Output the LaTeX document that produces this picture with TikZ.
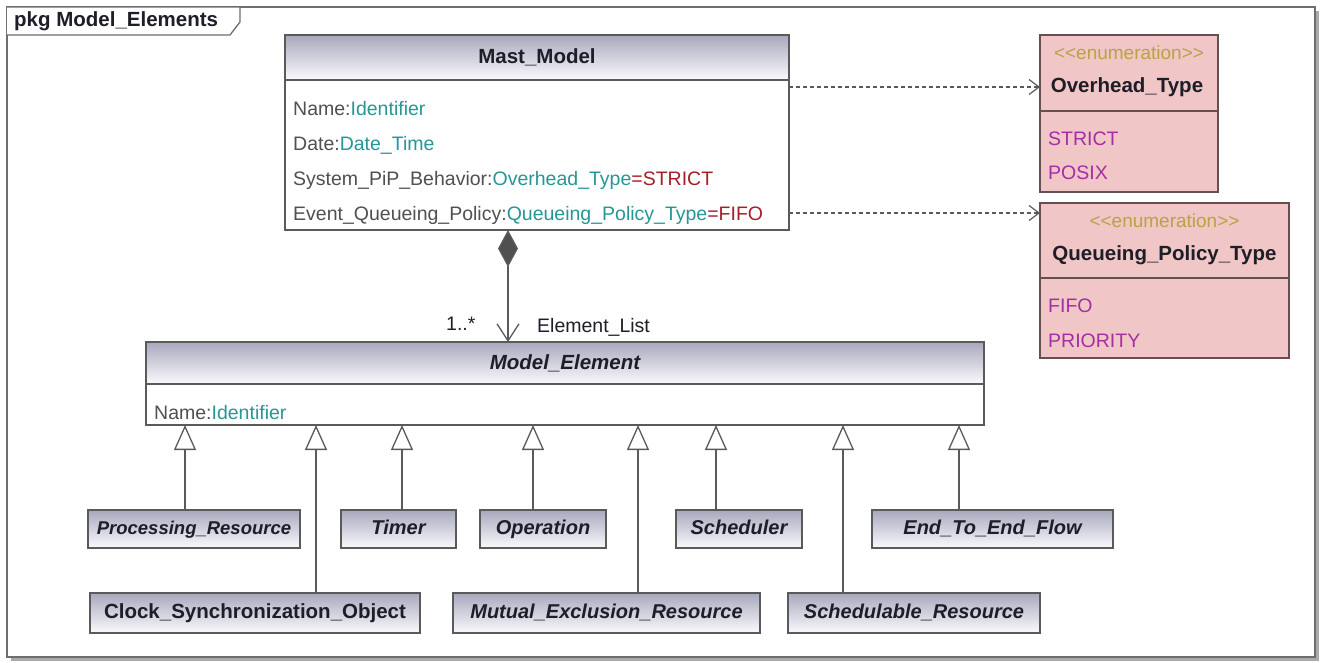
\documentclass[tikz,border=0pt]{standalone}
\usepackage{fontspec}
\setmainfont{Liberation Sans}
\usetikzlibrary{arrows.meta}
\definecolor{linec}{RGB}{90,90,90}
\definecolor{framec}{RGB}{110,110,110}
\definecolor{shadowc}{RGB}{170,170,170}
\definecolor{hdrtop}{RGB}{168,168,190}
\definecolor{hdrbot}{RGB}{250,250,253}
\definecolor{enumfill}{RGB}{240,198,198}
\definecolor{enumline}{RGB}{100,80,80}
\definecolor{tealc}{RGB}{40,150,150}
\definecolor{redc}{RGB}{165,30,40}
\definecolor{purplec}{RGB}{165,45,165}
\definecolor{stereoc}{RGB}{190,160,70}
\definecolor{attrgray}{RGB}{80,80,80}
\definecolor{titlec}{RGB}{30,30,40}
\definecolor{diamc}{RGB}{80,80,80}
\tikzset{
  hdr/.style={draw=linec, line width=1.3pt, top color=hdrtop, bottom color=hdrbot, inner sep=0pt, outer sep=0pt, text=titlec, font=\bfseries\fontsize{20.5}{24}\selectfont},
  body/.style={draw=linec, line width=1.3pt, fill=white, inner sep=0pt, outer sep=0pt},
  enumbox/.style={draw=enumline, line width=1.3pt, fill=enumfill, inner sep=0pt, outer sep=0pt},
  child/.style={draw=linec, line width=1.3pt, top color=hdrtop, bottom color=hdrbot, inner sep=0pt, outer sep=0pt, minimum height=38pt, text height=15pt, text depth=4pt, text=titlec, font=\bfseries\itshape\fontsize{20}{24}\selectfont},
  attr/.style={anchor=base west, inner sep=0pt, text=attrgray, font=\fontsize{19.5}{22}\selectfont},
  lit/.style={anchor=base west, inner sep=0pt, text=purplec, font=\fontsize{19.5}{22}\selectfont},
  stereo/.style={anchor=base, inner sep=0pt, text=stereoc, font=\fontsize{19}{22}\selectfont},
  ename/.style={anchor=base, inner sep=0pt, text=titlec, font=\bfseries\fontsize{20.5}{24}\selectfont},
  lbl/.style={anchor=base west, inner sep=0pt, text=titlec, font=\fontsize{19.5}{22}\selectfont},
  gen/.style={draw=linec, line width=1.3pt, -{Triangle[length=25pt,width=22pt,fill=white]}},
  comp/.style={draw=linec, line width=1.3pt, {Diamond[length=37pt,width=20pt,fill=diamc]}-{Straight Barb[length=17pt,width=22pt]}},
  dep/.style={draw=linec, line width=1.2pt, dash pattern=on 4pt off 3pt, -{Straight Barb[length=10pt,width=15pt]}}
}
\begin{document}
\begin{tikzpicture}[x=1pt,y=-1pt]
\useasboundingbox (0,0) rectangle (1323,662);
% package frame
\fill[shadowc] (11,11) rectangle (1319,661);
\draw[framec, fill=white, line width=1.3pt] (7,7) rectangle (1315,657);
\draw[framec, fill=white, line width=1.3pt] (7,7) -- (240,7) -- (240,22) -- (230,35) -- (7,35);
\node[anchor=west, inner sep=0pt, text=titlec, font=\bfseries\fontsize{20.5}{24}\selectfont] (pkgname) at (14,21) {pkg Model\_Elements};

% Mast_Model
\node[hdr, minimum width=504pt, minimum height=45pt] (mastH) at (537,57.5) {Mast\_Model};
\node[body, minimum width=504pt, minimum height=150pt] (mastB) at (537,155) {};
\node[attr] (m1) at (293,115) {Name:\textcolor{tealc}{Identifier}};
\node[attr] (m2) at (293,150) {Date:\textcolor{tealc}{Date\_Time}};
\node[attr] (m3) at (293,185) {System\_PiP\_Behavior:\textcolor{tealc}{Overhead\_Type}\textcolor{redc}{=STRICT}};
\node[attr] (m4) at (293,220) {Event\_Queueing\_Policy:\textcolor{tealc}{Queueing\_Policy\_Type}\textcolor{redc}{=FIFO}};

% Overhead_Type
\node[enumbox, minimum width=178pt, minimum height=76pt] (ohH) at (1129,73) {};
\node[enumbox, minimum width=178pt, minimum height=81pt] (ohB) at (1129,151.5) {};
\node[stereo] (oh1) at (1129,59) {{<}{<}enumeration{>}{>}};
\node[ename] (oh2) at (1127,92) {Overhead\_Type};
\node[lit] (oh3) at (1048,145) {STRICT};
\node[lit] (oh4) at (1048,179) {POSIX};

% Queueing_Policy_Type
\node[enumbox, minimum width=249pt, minimum height=75pt] (qpH) at (1164.5,240.5) {};
\node[enumbox, minimum width=249pt, minimum height=80pt] (qpB) at (1164.5,318) {};
\node[stereo] (qp1) at (1164.5,227) {{<}{<}enumeration{>}{>}};
\node[ename] (qp2) at (1164.5,260) {Queueing\_Policy\_Type};
\node[lit] (qp3) at (1048,312) {FIFO};
\node[lit] (qp4) at (1048,347) {PRIORITY};

% Model_Element
\node[hdr, minimum width=838pt, minimum height=42pt, font=\bfseries\itshape\fontsize{20.5}{24}\selectfont] (meH) at (565,363) {Model\_Element};
\node[body, minimum width=838pt, minimum height=41pt] (meB) at (565,404.5) {};
\node[attr] (me1) at (154,419) {Name:\textcolor{tealc}{Identifier}};

% children
\node[child, minimum width=212pt, font=\bfseries\itshape\fontsize{18.5}{24}\selectfont] (pr) at (194,529) {Processing\_Resource};
\node[child, minimum width=115pt] (ti) at (398.5,529) {Timer};
\node[child, minimum width=126pt] (op) at (543,529) {Operation};
\node[child, minimum width=126pt] (sc) at (739,529) {Scheduler};
\node[child, minimum width=241pt] (ef) at (992.5,529) {End\_To\_End\_Flow};
\node[child, minimum width=330pt, minimum height=40pt, font=\bfseries\fontsize{20.5}{24}\selectfont] (cs) at (255,613) {Clock\_Synchronization\_Object};
\node[child, minimum width=307pt, minimum height=40pt] (mx) at (606.5,613) {Mutual\_Exclusion\_Resource};
\node[child, minimum width=252pt, minimum height=40pt] (sr) at (914,613) {Schedulable\_Resource};

% generalizations
\draw[gen] ([xshift=-9pt]pr.north) -- ([xshift=-9pt]pr.north |- meB.south);
\draw[gen] ([xshift=3.5pt]ti.north) -- ([xshift=3.5pt]ti.north |- meB.south);
\draw[gen] ([xshift=-10pt]op.north) -- ([xshift=-10pt]op.north |- meB.south);
\draw[gen] ([xshift=-23pt]sc.north) -- ([xshift=-23pt]sc.north |- meB.south);
\draw[gen] ([xshift=-33.5pt]ef.north) -- ([xshift=-33.5pt]ef.north |- meB.south);
\draw[gen] ([xshift=61pt]cs.north) -- ([xshift=61pt]cs.north |- meB.south);
\draw[gen] ([xshift=31.5pt]mx.north) -- ([xshift=31.5pt]mx.north |- meB.south);
\draw[gen] ([xshift=-71pt]sr.north) -- ([xshift=-71pt]sr.north |- meB.south);

% composition
\draw[comp] ([xshift=-29pt]mastB.south) -- ([xshift=-29pt]mastB.south |- meH.north);
\node[lbl] (mult) at (446,330) {1..*};
\node[lbl] (role) at (537,332) {Element\_List};

% dependencies
\draw[dep] ([yshift=68pt]mastB.east) -- ([yshift=-14pt]ohH.west);
\draw[dep] ([yshift=-58pt]mastB.east) -- ([yshift=27.5pt]qpH.west);
\end{tikzpicture}
\end{document}
